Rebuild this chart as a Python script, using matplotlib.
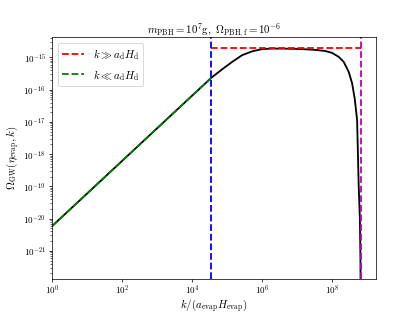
import numpy as np
import matplotlib
matplotlib.use('Agg')
import matplotlib.pyplot as plt

plt.rcParams['font.family'] = 'serif'
plt.rcParams['font.serif'] = ['cmr10']
plt.rcParams['mathtext.fontset'] = 'cm'
plt.rcParams['axes.formatter.use_mathtext'] = True
plt.rcParams['font.size'] = 12

# values (log10)
logk_full = [0.0, 4.548, 4.854, 5.140, 5.426, 5.712, 5.998, 6.284, 6.6, 7.0, 7.3,
             7.523, 7.809, 8.000, 8.190, 8.332, 8.475, 8.573, 8.647, 8.716,
             8.762, 8.796, 8.812, 8.822]
logO_full = [-20.23, -15.63, -15.37, -15.14, -14.93, -14.81, -14.74, -14.725, -14.725,
             -14.735, -14.75, -14.765, -14.80, -14.858, -14.98, -15.136, -15.444,
             -15.80, -16.27, -16.94, -18.99, -20.02, -21.3, -24.0]

logk_low = [0.0, 4.548]
logO_low = [-20.23, -15.63]

k_d = 3.53e4      # blue line
k_max = 6.6e8     # magenta line
omega_high = 1.9e-15

k_full = 10**np.array(logk_full)
O_full = 10**np.array(logO_full)
k_low = 10**np.array(logk_low)
O_low = 10**np.array(logO_low)

fig = plt.figure(figsize=(6.4, 4.8), dpi=65.3)
ax = fig.add_subplot(111)
ax.plot(k_full, O_full, 'k-', lw=2)
ax.plot([k_d, k_max], [omega_high, omega_high], 'r--', lw=2, label=r'$k\gg a_{\rm d}H_{\rm d}$')
ax.plot(k_low, O_low, 'g--', lw=2, label=r'$k\ll a_{\rm d}H_{\rm d}$')
ax.axvline(k_d, color='b', ls='--', lw=2)
ax.axvline(k_max, color='m', ls='--', lw=2)

ax.set_xscale('log')
ax.set_yscale('log')
ax.set_xlim(1, 10**9.26)
ax.set_ylim(10**-21.86, 10**-14.37)
ax.set_xlabel(r'$k/(a_{\rm evap}H_{\rm evap})$', fontsize=12, labelpad=0)
ax.set_ylabel(r'$\Omega_{\rm GW}(\eta_{\rm evap},k)$', fontsize=12, labelpad=2)
ax.set_title(r'$m_{\rm PBH}=10^7{\rm g},\ \Omega_{\rm PBH,f}=10^{-6}$', fontsize=12)
ax.tick_params(labelsize=10)
ax.tick_params(axis='x', pad=2)
ax.legend(loc='upper left', fontsize=12)

fig.savefig('out.png', dpi=65.3)
